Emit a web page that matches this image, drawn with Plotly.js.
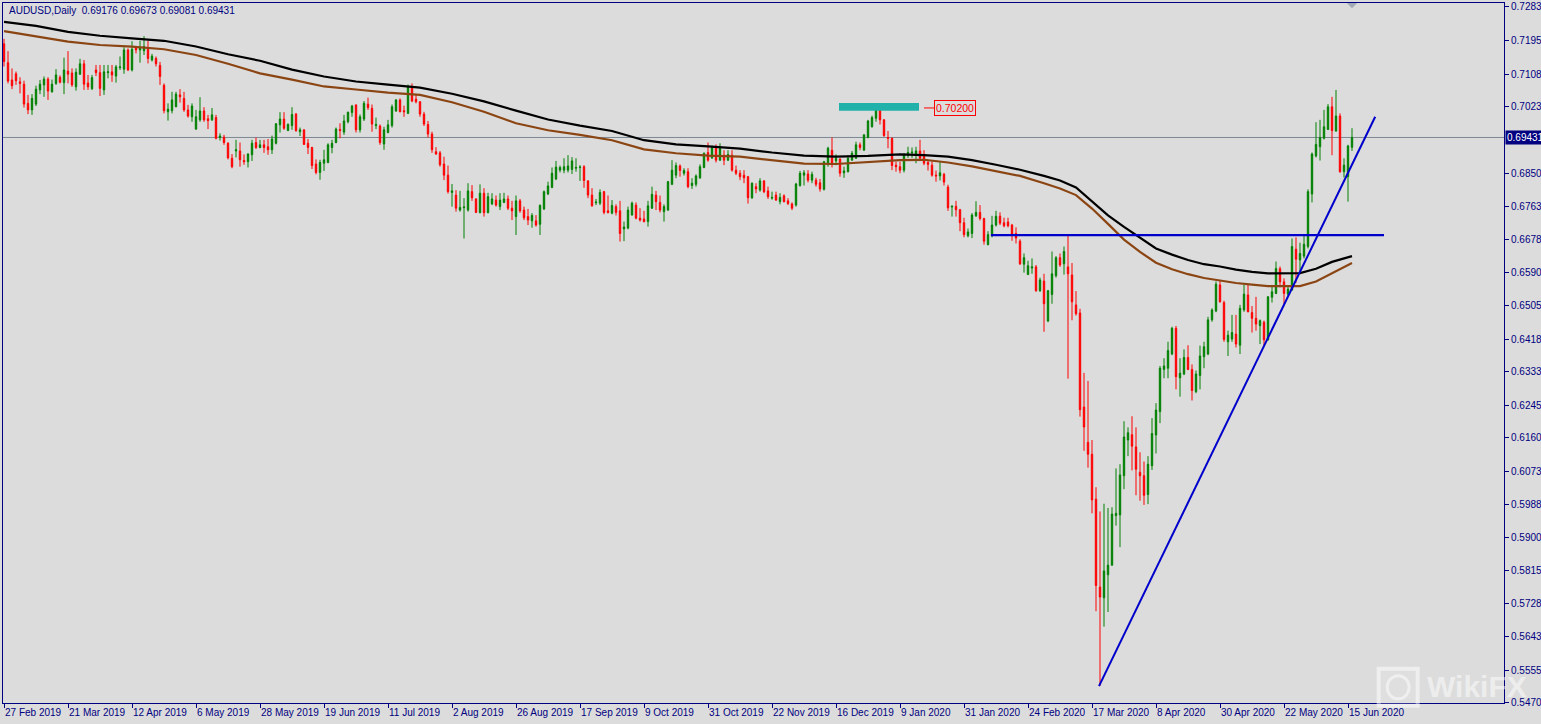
<!DOCTYPE html>
<html>
<head>
<meta charset="utf-8">
<script src="https://cdn.plot.ly/plotly-3.0.1.min.js"></script>
<style>
  html, body { margin: 0; padding: 0; background: #DCDCDC; }
  #chart { width: 1541px; height: 724px; }
</style>
</head>
<body>
<div id="chart"></div>
<script>
// ---- Data (AUDUSD, Daily, 27 Feb 2019 .. 16 Jun 2020) ----
const dateTickLabels = ['27 Feb 2019','21 Mar 2019','12 Apr 2019','6 May 2019','28 May 2019','19 Jun 2019','11 Jul 2019','2 Aug 2019','26 Aug 2019','17 Sep 2019','9 Oct 2019','31 Oct 2019','22 Nov 2019','16 Dec 2019','9 Jan 2020','31 Jan 2020','24 Feb 2020','17 Mar 2020','8 Apr 2020','30 Apr 2020','22 May 2020','15 Jun 2020'];
const barsPerDateTick = 16;

const priceTicks = [0.72830,0.71955,0.71080,0.70230,0.68505,0.67630,0.66780,0.65905,0.65055,0.64180,0.63330,0.62455,0.61605,0.60730,0.59880,0.59005,0.58155,0.57280,0.56430,0.55555,0.54705];

const open = [
.7187,.7138,.7093,.7109,.7088,.7082,.7032,.7015,.7030,.7067,
.7080,.7095,.7062,.7084,.7100,.7086,.7116,.7111,.7075,.7108,
.7135,.7085,.7070,.7119,.7112,.7067,.7112,.7114,.7103,.7125,
.7121,.7171,.7119,.7178,.7171,.7169,.7173,.7145,.7149,.7131,
.7079,.7010,.7013,.7023,.7054,.7045,.7015,.6997,.6965,.6989,
.7012,.6992,.6989,.6995,.6943,.6944,.6928,.6889,.6908,.6908,
.6883,.6880,.6898,.6930,.6917,.6924,.6919,.6911,.6928,.6976,
.6991,.6961,.6974,.7004,.6958,.6963,.6928,.6917,.6874,.6852,
.6876,.6878,.6917,.6930,.6964,.6957,.6984,.7008,.7028,.6963,
.6991,.7030,.7019,.6974,.6973,.6926,.6956,.6974,.7012,.7041,
.7013,.7006,.7075,.7043,.7036,.7004,.6977,.6952,.6906,.6903,
.6874,.6845,.6800,.6793,.6754,.6760,.6754,.6802,.6783,.6747,
.6798,.6747,.6770,.6780,.6763,.6774,.6783,.6759,.6737,.6778,
.6754,.6737,.6726,.6726,.6717,.6757,.6796,.6813,.6835,.6858,
.6858,.6858,.6860,.6863,.6865,.6867,.6830,.6793,.6773,.6772,
.6802,.6752,.6746,.6763,.6752,.6705,.6707,.6741,.6767,.6733,
.6731,.6724,.6759,.6793,.6774,.6750,.6754,.6821,.6845,.6869,
.6850,.6854,.6818,.6821,.6838,.6865,.6904,.6890,.6919,.6884,
.6897,.6884,.6897,.6858,.6850,.6845,.6841,.6786,.6815,.6806,
.6830,.6804,.6785,.6793,.6776,.6791,.6778,.6770,.6767,.6818,
.6845,.6848,.6832,.6832,.6825,.6808,.6876,.6910,.6882,.6887,
.6851,.6854,.6884,.6889,.6924,.6910,.6943,.6971,.6993,.7015,
.6989,.6943,.6941,.6871,.6867,.6858,.6896,.6903,.6897,.6908,
.6897,.6878,.6871,.6845,.6843,.6847,.6814,.6762,.6764,.6755,
.6721,.6687,.6693,.6739,.6748,.6732,.6664,.6687,.6715,.6738,
.6721,.6723,.6715,.6693,.6673,.6613,.6586,.6603,.6606,.6544,
.6569,.6465,.6534,.6583,.6630,.6614,.6606,.6585,.6507,.6486,
.6241,.6149,.6118,.6001,.5772,.5744,.5804,.5829,.5958,.5960,
.6062,.6155,.6169,.6137,.6071,.6062,.6013,.6088,.6168,.6229,
.6339,.6342,.6379,.6446,.6317,.6327,.6370,.6339,.6281,.6323,
.6372,.6379,.6468,.6491,.6559,.6513,.6411,.6418,.6431,.6402,
.6494,.6533,.6487,.6472,.6453,.6462,.6416,.6527,.6537,.6601,
.6567,.6535,.6546,.6652,.6624,.6634,.6659,.6796,.6895,.6919,
.6941,.6964,.7023,.6960,.6999,.6854,.6841,.69176];

const high = [
.7200,.7168,.7123,.7115,.7100,.7091,.7054,.7056,.7078,.7093,
.7102,.7100,.7094,.7121,.7105,.7151,.7168,.7123,.7123,.7148,
.7145,.7106,.7106,.7132,.7132,.7132,.7132,.7132,.7132,.7154,
.7178,.7175,.7194,.7181,.7195,.7207,.7195,.7161,.7154,.7140,
.7084,.7032,.7062,.7062,.7069,.7062,.7028,.7032,.7015,.7048,
.7022,.7002,.7020,.7002,.6954,.6950,.6931,.6900,.6937,.6930,
.6899,.6902,.6937,.6943,.6937,.6937,.6939,.6948,.6980,.7009,
.7009,.6980,.7022,.7007,.6969,.6964,.6939,.6919,.6886,.6885,
.6911,.6928,.6937,.6969,.6980,.7002,.7010,.7028,.7029,.7003,
.7038,.7047,.7029,.6995,.6977,.6971,.6989,.7029,.7043,.7045,
.7026,.7081,.7084,.7054,.7038,.7010,.6986,.6958,.6918,.6908,
.6893,.6870,.6822,.6806,.6804,.6785,.6824,.6819,.6785,.6821,
.6811,.6799,.6798,.6792,.6798,.6799,.6792,.6778,.6792,.6783,
.6763,.6757,.6746,.6741,.6769,.6805,.6828,.6865,.6882,.6870,
.6889,.6897,.6892,.6889,.6871,.6871,.6832,.6811,.6783,.6808,
.6804,.6792,.6780,.6769,.6778,.6724,.6763,.6776,.6774,.6759,
.6752,.6778,.6815,.6804,.6792,.6769,.6830,.6884,.6878,.6873,
.6863,.6863,.6837,.6847,.6873,.6904,.6930,.6922,.6925,.6928,
.6910,.6910,.6910,.6870,.6858,.6858,.6843,.6826,.6824,.6837,
.6832,.6815,.6802,.6802,.6798,.6795,.6785,.6774,.6825,.6856,
.6858,.6858,.6854,.6838,.6835,.6882,.6919,.6943,.6899,.6889,
.6867,.6896,.6908,.6932,.6930,.6951,.6989,.7000,.7032,.7021,
.6991,.6960,.6943,.6880,.6880,.6902,.6919,.6917,.6919,.6937,
.6910,.6885,.6881,.6857,.6879,.6851,.6820,.6766,.6778,.6757,
.6734,.6706,.6746,.6777,.6767,.6734,.6699,.6739,.6752,.6748,
.6734,.6734,.6718,.6709,.6678,.6641,.6622,.6628,.6611,.6578,
.6588,.6546,.6646,.6634,.6641,.6659,.6690,.6616,.6543,.6497,
.6330,.6309,.6155,.6032,.5969,.5989,.5978,.5980,.6081,.6092,
.6204,.6188,.6217,.6188,.6123,.6099,.6113,.6212,.6251,.6348,
.6368,.6411,.6450,.6452,.6368,.6391,.6402,.6352,.6336,.6401,
.6411,.6476,.6498,.6568,.6572,.6518,.6440,.6481,.6481,.6507,
.6559,.6561,.6504,.6528,.6469,.6466,.6530,.6559,.6620,.6607,
.6576,.6554,.6680,.6683,.6669,.6689,.6808,.6904,.6983,.6989,
.7015,.7030,.7049,.7067,.7006,.6889,.6924,.69673];

const low = [
.7128,.7084,.7069,.7080,.7058,.7021,.7004,.7002,.7025,.7056,
.7049,.7041,.7060,.7080,.7084,.7056,.7084,.7075,.7065,.7106,
.7067,.7067,.7067,.7103,.7051,.7054,.7097,.7088,.7086,.7119,
.7109,.7116,.7115,.7162,.7138,.7158,.7136,.7141,.7128,.7080,
.7006,.6987,.7006,.7022,.7034,.7010,.6995,.6984,.6963,.6984,
.6984,.6965,.6986,.6938,.6935,.6924,.6886,.6863,.6891,.6867,
.6872,.6865,.6882,.6913,.6915,.6903,.6898,.6900,.6925,.6956,
.6963,.6960,.6963,.6958,.6947,.6924,.6900,.6861,.6847,.6833,
.6856,.6876,.6902,.6928,.6941,.6950,.6980,.6997,.6956,.6956,
.6986,.7015,.6958,.6965,.6924,.6911,.6954,.6969,.7010,.7009,
.6997,.7004,.7035,.7032,.6997,.6973,.6943,.6903,.6898,.6867,
.6832,.6797,.6763,.6750,.6750,.6680,.6750,.6778,.6746,.6746,
.6737,.6746,.6767,.6763,.6754,.6772,.6754,.6728,.6689,.6747,
.6728,.6715,.6708,.6711,.6689,.6754,.6793,.6811,.6832,.6852,
.6850,.6852,.6848,.6854,.6830,.6812,.6785,.6763,.6767,.6767,
.6743,.6746,.6743,.6740,.6672,.6673,.6704,.6740,.6730,.6724,
.6722,.6711,.6757,.6754,.6748,.6724,.6752,.6819,.6837,.6841,
.6844,.6811,.6809,.6815,.6835,.6863,.6880,.6887,.6878,.6882,
.6871,.6882,.6854,.6845,.6832,.6824,.6771,.6783,.6798,.6802,
.6798,.6783,.6781,.6778,.6769,.6774,.6767,.6754,.6763,.6815,
.6818,.6826,.6824,.6815,.6802,.6805,.6867,.6865,.6871,.6841,
.6838,.6852,.6883,.6887,.6910,.6909,.6941,.6969,.6984,.6977,
.6945,.6915,.6858,.6854,.6850,.6852,.6890,.6890,.6876,.6884,
.6871,.6857,.6841,.6828,.6831,.6818,.6752,.6737,.6737,.6699,
.6683,.6683,.6681,.6736,.6727,.6664,.6662,.6683,.6711,.6715,
.6709,.6709,.6674,.6667,.6611,.6591,.6585,.6588,.6541,.6541,
.6437,.6462,.6510,.6578,.6606,.6586,.6315,.6467,.6479,.6216,
.6127,.6083,.5964,.5709,.5515,.5669,.5707,.5828,.5932,.5876,
.6027,.6113,.6076,.6011,.5997,.5986,.5988,.6077,.6120,.6199,
.6316,.6316,.6376,.6287,.6268,.6324,.6337,.6258,.6277,.6287,
.6342,.6376,.6463,.6488,.6513,.6411,.6374,.6411,.6396,.6379,
.6489,.6488,.6435,.6440,.6405,.6402,.6414,.6513,.6535,.6553,
.6509,.6531,.6544,.6565,.6594,.6628,.6654,.6774,.6891,.6883,
.6938,.6963,.6897,.6958,.6851,.6839,.6776,.69081];

const close = [
.7141,.7090,.7078,.7091,.7084,.7030,.7015,.7045,.7069,.7082,
.7095,.7064,.7082,.7106,.7087,.7119,.7108,.7080,.7113,.7135,
.7082,.7075,.7099,.7112,.7071,.7114,.7114,.7106,.7127,.7127,
.7171,.7119,.7173,.7171,.7177,.7180,.7149,.7155,.7135,.7102,
.7013,.7017,.7041,.7056,.7049,.7015,.6999,.7025,.6997,.7012,
.6989,.6987,.7002,.6941,.6947,.6930,.6890,.6867,.6911,.6885,
.6880,.6900,.6928,.6917,.6924,.6917,.6911,.6939,.6979,.6991,
.6967,.6977,.7003,.6961,.6963,.6925,.6917,.6870,.6852,.6878,
.6885,.6924,.6928,.6965,.6961,.6986,.7009,.7025,.6963,.6997,
.7032,.7021,.6978,.6977,.6930,.6963,.6976,.7023,.7041,.7010,
.7010,.7075,.7038,.7036,.7004,.6978,.6952,.6911,.6900,.6872,
.6845,.6802,.6804,.6759,.6761,.6762,.6804,.6786,.6748,.6798,
.6747,.6789,.6783,.6767,.6780,.6783,.6759,.6752,.6778,.6752,
.6734,.6728,.6740,.6715,.6766,.6802,.6817,.6850,.6866,.6865,
.6867,.6869,.6882,.6865,.6866,.6831,.6793,.6765,.6775,.6800,
.6748,.6747,.6766,.6748,.6693,.6710,.6754,.6772,.6733,.6728,
.6724,.6765,.6795,.6776,.6754,.6763,.6828,.6858,.6870,.6857,
.6857,.6815,.6824,.6843,.6867,.6902,.6884,.6917,.6884,.6915,
.6884,.6899,.6858,.6850,.6841,.6838,.6786,.6824,.6809,.6830,
.6802,.6789,.6787,.6780,.6787,.6776,.6771,.6759,.6822,.6850,
.6851,.6832,.6847,.6821,.6809,.6880,.6915,.6876,.6889,.6850,
.6856,.6889,.6902,.6924,.6917,.6950,.6986,.6995,.7017,.6989,
.6948,.6941,.6870,.6867,.6858,.6899,.6904,.6905,.6908,.6889,
.6876,.6873,.6845,.6843,.6851,.6827,.6760,.6764,.6755,.6721,
.6690,.6697,.6741,.6748,.6732,.6673,.6690,.6715,.6738,.6720,
.6713,.6713,.6690,.6681,.6614,.6630,.6609,.6606,.6544,.6572,
.6510,.6544,.6588,.6630,.6611,.6646,.6588,.6515,.6484,.6234,
.6189,.6118,.5999,.5776,.5746,.5814,.5829,.5962,.5964,.6064,
.6163,.6174,.6139,.6079,.6062,.6011,.6092,.6172,.6233,.6342,
.6348,.6388,.6446,.6320,.6329,.6370,.6339,.6284,.6327,.6374,
.6398,.6468,.6494,.6561,.6515,.6417,.6428,.6435,.6405,.6498,
.6535,.6489,.6472,.6457,.6466,.6416,.6528,.6541,.6602,.6567,
.6537,.6548,.6659,.6626,.6641,.6665,.6802,.6900,.6925,.6943,
.6971,.7023,.6961,.6999,.6854,.6871,.6921,.69431];

// moving averages (black and brown) sampled at bar numbers
const maBar = [0,8,16,24,32,40,48,56,64,72,80,88,96,104,112,120,128,136,144,152,160,168,176,184,192,200,208,216,224,230,236,242,248,254,260,264,268,272,276,280,284,288,292,296,300,304,308,312,316,320,324,328,332,337];
const maBlack = [.7244,.7234,.7218,.7208,.7201,.7195,.7180,.7160,.7143,.7120,.7102,.7089,.7081,.7073,.7057,.7037,.7013,.6990,.6974,.6960,.6936,.6925,.6920,.6914,.6904,.6896,.6893,.6895,.6899,.6897,.6893,.6884,.6872,.6859,.6843,.6831,.6813,.6777,.6740,.6710,.6681,.6654,.6638,.6624,.6613,.6607,.6599,.6593,.6589,.6589,.6590,.6601,.6619,.6634];
const maBrown = [.7220,.7207,.7193,.7184,.7180,.7173,.7158,.7135,.7110,.7094,.7076,.7068,.7060,.7054,.7035,.7010,.6980,.6962,.6950,.6936,.6912,.6902,.6896,.6893,.6884,.6875,.6874,.6879,.6884,.6885,.6878,.6868,.6856,.6843,.6824,.6810,.6793,.6758,.6718,.6677,.6645,.6617,.6600,.6587,.6577,.6571,.6564,.6560,.6556,.6556,.6556,.6568,.6590,.6616];

// drawn objects
const trendBar = [273.75, 342.8];
const trendPrice = [0.5514, 0.6997];
const levelBar = [246.75, 345];
const levelPrice = 0.6689;
const markLevel = 0.70200;
const markBoxBar = [208.75, 228.75];
const markBoxPrice = [0.7013, 0.7033];

// ---- build ----
const bars = open.map((_, i) => i);
const last = open.length - 1;
const tickBars = dateTickLabels.map((_, i) => i * barsPerDateTick);
const navy = '#000080';
const fontFam = 'Liberation Sans, Arial, sans-serif';

const traces = [
  {
    type: 'candlestick', x: bars, open: open, high: high, low: low, close: close,
    increasing: {line: {color: '#008000', width: 1}, fillcolor: '#008000'},
    decreasing: {line: {color: '#FF0000', width: 1}, fillcolor: '#FF0000'},
    whiskerwidth: 0, showlegend: false
  },
  {type: 'scatter', mode: 'lines', x: maBar, y: maBlack, line: {color: '#000000', width: 2.2}, hoverinfo: 'skip', showlegend: false},
  {type: 'scatter', mode: 'lines', x: maBar, y: maBrown, line: {color: '#8B4513', width: 2.2}, hoverinfo: 'skip', showlegend: false},
  {type: 'scatter', mode: 'lines', x: levelBar, y: [levelPrice, levelPrice], line: {color: '#0000CC', width: 2.2}, hoverinfo: 'skip', showlegend: false},
  {type: 'scatter', mode: 'lines', x: trendBar, y: trendPrice, line: {color: '#0000CC', width: 2}, hoverinfo: 'skip', showlegend: false}
];

const layout = {
  width: 1541, height: 724,
  paper_bgcolor: '#DCDCDC', plot_bgcolor: '#DCDCDC',
  margin: {l: 3, r: 37, t: 3, b: 21, pad: 0, autoexpand: false},
  showlegend: false,
  boxgap: 0.5,
  font: {family: fontFam, size: 10, color: navy},
  xaxis: {
    type: 'linear', range: [-0.25, 375],
    tickmode: 'array', tickvals: tickBars, ticktext: dateTickLabels,
    tickangle: 0,
    ticks: 'outside', ticklen: 4, tickwidth: 1, tickcolor: navy,
    ticklabelposition: 'outside right',
    tickfont: {family: fontFam, size: 10, color: navy},
    showline: true, linecolor: navy, linewidth: 1, mirror: true,
    showgrid: false, zeroline: false, fixedrange: true,
    rangeslider: {visible: false}
  },
  yaxis: {
    side: 'right', range: [0.54700, 0.72934],
    tickmode: 'array', tickvals: priceTicks, ticktext: priceTicks.map(v => v.toFixed(5)),
    ticks: 'outside', ticklen: 4, tickwidth: 1, tickcolor: navy,
    tickfont: {family: fontFam, size: 10, color: navy},
    ticklabeloverflow: 'allow',
    showline: true, linecolor: navy, linewidth: 1, mirror: true,
    showgrid: false, zeroline: false, fixedrange: true
  },
  shapes: [
    {type: 'line', xref: 'paper', x0: 0, x1: 1, yref: 'y', y0: close[last], y1: close[last],
     line: {color: '#7D8896', width: 1}, layer: 'below'},
    {type: 'rect', xref: 'x', yref: 'y', x0: markBoxBar[0], x1: markBoxBar[1], y0: markBoxPrice[0], y1: markBoxPrice[1],
     fillcolor: '#20B2AA', line: {width: 0}},
    {type: 'line', xref: 'x', yref: 'y', x0: 230, x1: 232.6, y0: markLevel, y1: markLevel,
     line: {color: '#FF0000', width: 1}},
    {type: 'path', xref: 'x', yref: 'paper', path: 'M 335.7 1 L 338.3 1 L 337 0.9925 Z',
     fillcolor: '#A3ABB6', line: {width: 0}},
    // watermark logo
    {type: 'rect', xref: 'paper', yref: 'paper', x0: 0.9165, x1: 0.9425, y0: -0.004, y1: 0.049,
     line: {color: 'rgba(255,255,255,0.5)', width: 4}, fillcolor: 'rgba(255,255,255,0.10)'},
    {type: 'circle', xref: 'paper', yref: 'paper', x0: 0.9222, x1: 0.9368, y0: 0.006, y1: 0.039,
     line: {color: 'rgba(255,255,255,0.5)', width: 3}}
  ],
  annotations: [
    {xref: 'paper', yref: 'paper', x: 0.0027, y: 0.9886, xanchor: 'left', yanchor: 'middle', showarrow: false,
     text: 'AUDUSD,Daily  ' + [open[last], high[last], low[last], close[last]].map(v => v.toFixed(5)).join(' '),
     font: {family: fontFam, size: 10, color: navy}},
    {xref: 'x', yref: 'y', x: 232.6, y: markLevel, xanchor: 'left', yanchor: 'middle', showarrow: false,
     text: markLevel.toFixed(5), font: {family: fontFam, size: 10.5, color: '#FF0000'},
     bordercolor: '#FF0000', borderwidth: 1, borderpad: 1, bgcolor: 'rgba(0,0,0,0)'},
    {xref: 'paper', yref: 'y', x: 1, xshift: 1, y: close[last], xanchor: 'left', yanchor: 'middle', showarrow: false,
     text: close[last].toFixed(5), font: {family: fontFam, size: 10, color: '#FFFFFF'},
     bgcolor: navy, borderpad: 1},
    {xref: 'paper', yref: 'paper', x: 0.9474, y: 0.0229, xanchor: 'left', yanchor: 'middle', showarrow: false,
     text: '<b>WikiFX</b>', font: {family: fontFam, size: 30, color: 'rgba(255,255,255,0.5)'}}
  ]
};

Plotly.newPlot('chart', traces, layout, {displayModeBar: false, staticPlot: true});
</script>
</body>
</html>
